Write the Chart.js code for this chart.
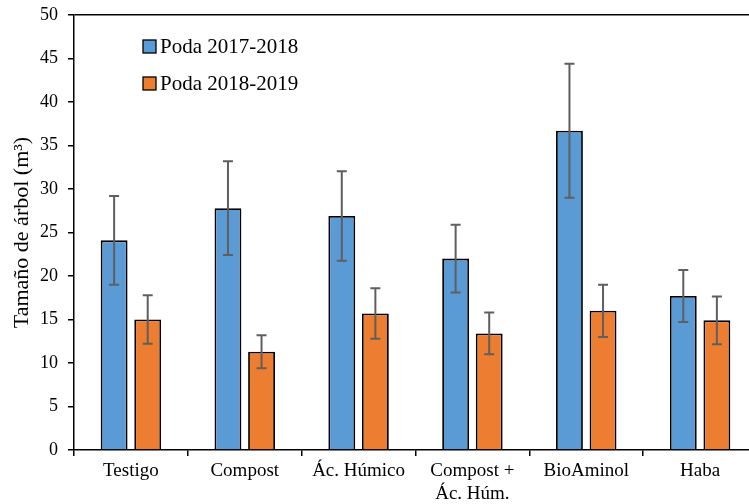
<!DOCTYPE html>
<html>
<head>
<meta charset="utf-8">
<script src="https://cdn.jsdelivr.net/npm/chart.js@4.4.1/dist/chart.umd.min.js"></script>
<style>
  html, body { margin: 0; padding: 0; background: #fff; overflow: hidden; }
  #wrap { width: 762px; height: 504px; }
</style>
</head>
<body>
<div id="wrap"><canvas id="poda-chart" width="762" height="504"></canvas></div>
<script>
// tamaño de árbol por tratamiento, dos temporadas de poda
var tratamientos = ['Testigo', 'Compost', 'Ác. Húmico', ['Compost +', 'Ác. Húm.'], 'BioAminol', 'Haba'];
var poda1718 = [24.1, 27.8, 26.9, 22.0, 36.7, 17.7];
var poda1819 = [15.0, 11.3, 15.7, 13.4, 16.0, 14.9];
// desviación (barras de error)
var err1718 = [5.1, 5.4, 5.15, 3.9, 7.7, 3.0];
var err1819 = [2.8, 1.9, 2.9, 2.4, 3.0, 2.75];
var ticksY = [0, 5, 10, 15, 20, 25, 30, 35, 40, 45, 50];

Chart.defaults.font.family = '"Liberation Serif", "Times New Roman", serif';
Chart.defaults.color = '#000';

// barras de error
var errorBars = {
  id: 'errorBars',
  afterDatasetsDraw: function (chart, args, opts) {
    var ctx = chart.ctx;
    var y = chart.scales.y;
    chart.data.datasets.forEach(function (ds, i) {
      var meta = chart.getDatasetMeta(i);
      meta.data.forEach(function (bar, j) {
        var v = ds.data[j], e = ds.errores[j];
        var top = y.getPixelForValue(v + e);
        var bot = y.getPixelForValue(v - e);
        ctx.save();
        ctx.strokeStyle = opts.color;
        ctx.lineWidth = opts.width;
        ctx.beginPath();
        ctx.moveTo(bar.x, top); ctx.lineTo(bar.x, bot);
        ctx.moveTo(bar.x - opts.cap, top); ctx.lineTo(bar.x + opts.cap, top);
        ctx.moveTo(bar.x - opts.cap, bot); ctx.lineTo(bar.x + opts.cap, bot);
        ctx.stroke();
        ctx.restore();
      });
    });
  }
};

// leyenda dentro del área del gráfico
var leyenda = {
  id: 'leyenda',
  afterDraw: function (chart, args, opts) {
    var ctx = chart.ctx;
    var area = chart.chartArea;
    ctx.save();
    ctx.font = opts.size + 'px ' + Chart.defaults.font.family;
    ctx.textBaseline = 'middle';
    chart.data.datasets.forEach(function (ds, i) {
      var x = area.left + opts.x;
      var cy = area.top + opts.y + i * opts.step;
      ctx.fillStyle = ds.backgroundColor;
      ctx.fillRect(x, cy - 6, 13, 13);
      ctx.strokeStyle = '#000';
      ctx.lineWidth = 1.3;
      ctx.strokeRect(x, cy - 6, 13, 13);
      ctx.fillStyle = '#000';
      ctx.fillText(ds.label, x + 17, cy + 1);
    });
    ctx.restore();
  }
};

new Chart(document.getElementById('poda-chart'), {
  type: 'bar',
  data: {
    labels: tratamientos,
    datasets: [{
      label: 'Poda 2017-2018',
      data: poda1718,
      errores: err1718,
      backgroundColor: '#5b9bd5',
      borderColor: '#000',
      borderWidth: 1.8
    }, {
      label: 'Poda 2018-2019',
      data: poda1819,
      errores: err1819,
      backgroundColor: '#ed7d31',
      borderColor: '#000',
      borderWidth: 1.8
    }]
  },
  options: {
    responsive: false,
    animation: false,
    categoryPercentage: 0.59,
    barPercentage: 0.8,
    layout: { padding: { top: 15, right: 5, left: 0, bottom: 0 } },
    plugins: {
      legend: { display: false },
      tooltip: { enabled: false },
      errorBars: { color: '#5f5f5f', width: 2, cap: 5 },
      leyenda: { x: 69, y: 31, step: 37, size: 21 }
    },
    scales: {
      x: {
        grid: {
          color: 'transparent',
          tickColor: '#000',
          tickLength: 6,
          lineWidth: 1.5
        },
        border: { display: true, color: '#000', width: 1.5 },
        ticks: { font: { size: 19 }, padding: 4, maxRotation: 0, autoSkip: false },
        afterFit: function (scale) { scale.height = 54; }
      },
      y: {
        min: 0,
        max: 50,
        afterBuildTicks: function (scale) {
          scale.ticks = ticksY.map(function (v) { return { value: v }; });
        },
        grid: {
          color: function (c) { return c.tick && c.tick.value === 50 ? '#000' : 'transparent'; },
          tickColor: '#000',
          tickLength: 6,
          lineWidth: 1.5
        },
        border: { display: true, color: '#000', width: 1.5 },
        ticks: { font: { size: 18 }, padding: 10 },
        title: {
          display: true,
          text: 'Tamaño de árbol (m³)',
          font: { size: 22 },
          padding: { top: 9, bottom: 0 }
        },
        afterFit: function (scale) {
          scale.width = 74;
          scale.paddingTop = 0;
          scale.paddingBottom = 0;
        }
      }
    }
  },
  plugins: [errorBars, leyenda]
});
</script>
</body>
</html>
